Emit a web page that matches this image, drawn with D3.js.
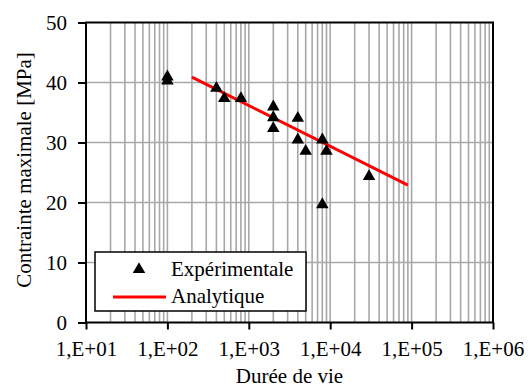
<!DOCTYPE html>
<html><head><meta charset="utf-8">
<script src="https://cdn.jsdelivr.net/npm/d3@7"></script>
<style>
html,body{margin:0;padding:0;background:#fff;}
</style></head>
<body><svg id="c" width="531" height="389"></svg>
<script>
// Data
const expLife = [100, 100, 400, 500, 800, 2000, 2000, 2000, 4000, 4000, 5000, 8000, 8000, 9000, 30000];
const expStress = [41.2, 40.5, 39.3, 37.6, 37.6, 36.2, 34.4, 32.6, 34.3, 30.7, 28.8, 30.7, 19.9, 28.8, 24.6];
const anaLife = [200, 90000];
const anaStress = [40.9, 22.9];
const xTickValues = [1e1, 1e2, 1e3, 1e4, 1e5, 1e6];
const xTickLabels = ["1,E+01", "1,E+02", "1,E+03", "1,E+04", "1,E+05", "1,E+06"];
const yTickValues = [0, 10, 20, 30, 40, 50];
const seriesNames = ["Expérimentale", "Analytique"];
const xTitle = "Durée de vie";
const yTitle = "Contrainte maximale [MPa]";

const FONT = '"Liberation Serif", "Times New Roman", serif';
const svg = d3.select("#c");
const L = 86, R = 493, T = 22.5, B = 322.5;
const FS = 21;
const x = d3.scaleLog().domain([1e1, 1e6]).range([L, R]);
const y = d3.scaleLinear().domain([0, 50]).range([B, T]);

// minor + major vertical gridlines
const vgrid = [];
for (let e = 1; e < 6; e++) for (let m = 1; m <= 9; m++) { const v = m * Math.pow(10, e); if (v > 1e1) vgrid.push(v); }
svg.append("g").selectAll("line").data(vgrid).join("line")
  .attr("x1", d => x(d)).attr("x2", d => x(d)).attr("y1", T).attr("y2", B)
  .attr("stroke", "#a8a8a8").attr("stroke-width", 1.6);
svg.append("g").selectAll("line").data(yTickValues.filter(v => v > 0 && v < 50)).join("line")
  .attr("x1", L).attr("x2", R).attr("y1", d => y(d)).attr("y2", d => y(d))
  .attr("stroke", "#a8a8a8").attr("stroke-width", 1.6);

// frame
svg.append("rect").attr("x", L).attr("y", T).attr("width", R - L).attr("height", B - T)
  .attr("fill", "none").attr("stroke", "#000").attr("stroke-width", 2);

// axes
const xa = svg.append("g").attr("transform", `translate(0,${B})`)
  .call(d3.axisBottom(x).tickValues(xTickValues).tickFormat((d, i) => xTickLabels[i]).tickSize(7).tickPadding(12));
const ya = svg.append("g").attr("transform", `translate(${L},0)`)
  .call(d3.axisLeft(y).tickValues(yTickValues).tickSize(8).tickPadding(11));
[xa, ya].forEach(g => {
  g.attr("font-family", null).attr("font-size", null);
  g.select(".domain").remove();
  g.selectAll(".tick line").attr("stroke", "#000").attr("stroke-width", 2);
  g.selectAll("text").style("font-size", FS + "px").style("font-family", FONT).attr("fill", "#000");
});

// analytic line
const lineGen = d3.line().x(d => x(d[0])).y(d => y(d[1]));
svg.append("path").datum(anaLife.map((v, i) => [v, anaStress[i]]))
  .attr("d", lineGen).attr("fill", "none").attr("stroke", "#ff0000").attr("stroke-width", 3);

// experimental markers
const tri = d3.symbol().type(d3.symbolTriangle).size(68);
svg.append("g").selectAll("path").data(expLife.map((v, i) => [v, expStress[i]])).join("path")
  .attr("d", tri).attr("transform", d => `translate(${x(d[0])},${y(d[1]) + 1.5})`).attr("fill", "#000");

// legend
const lg = svg.append("g");
lg.append("rect").attr("x", 95).attr("y", 252).attr("width", 211).attr("height", 59)
  .attr("fill", "#fff").attr("stroke", "#000").attr("stroke-width", 1.5);
lg.append("path").attr("d", tri).attr("transform", "translate(139,269.5)").attr("fill", "#000");
lg.append("line").attr("x1", 113).attr("x2", 166).attr("y1", 297).attr("y2", 297)
  .attr("stroke", "#ff0000").attr("stroke-width", 3);
function txt(sel) { return sel.style("font-size", FS + "px").style("font-family", FONT).attr("fill", "#000"); }
txt(lg.append("text").attr("x", 171).attr("y", 276)).text(seriesNames[0]);
txt(lg.append("text").attr("x", 171).attr("y", 303)).text(seriesNames[1]);

// titles
txt(svg.append("text").attr("x", (L + R) / 2).attr("y", 383).attr("text-anchor", "middle")).text(xTitle);
txt(svg.append("text").attr("transform", `translate(31,170) rotate(-90)`).attr("text-anchor", "middle")).text(yTitle);
</script></body></html>
